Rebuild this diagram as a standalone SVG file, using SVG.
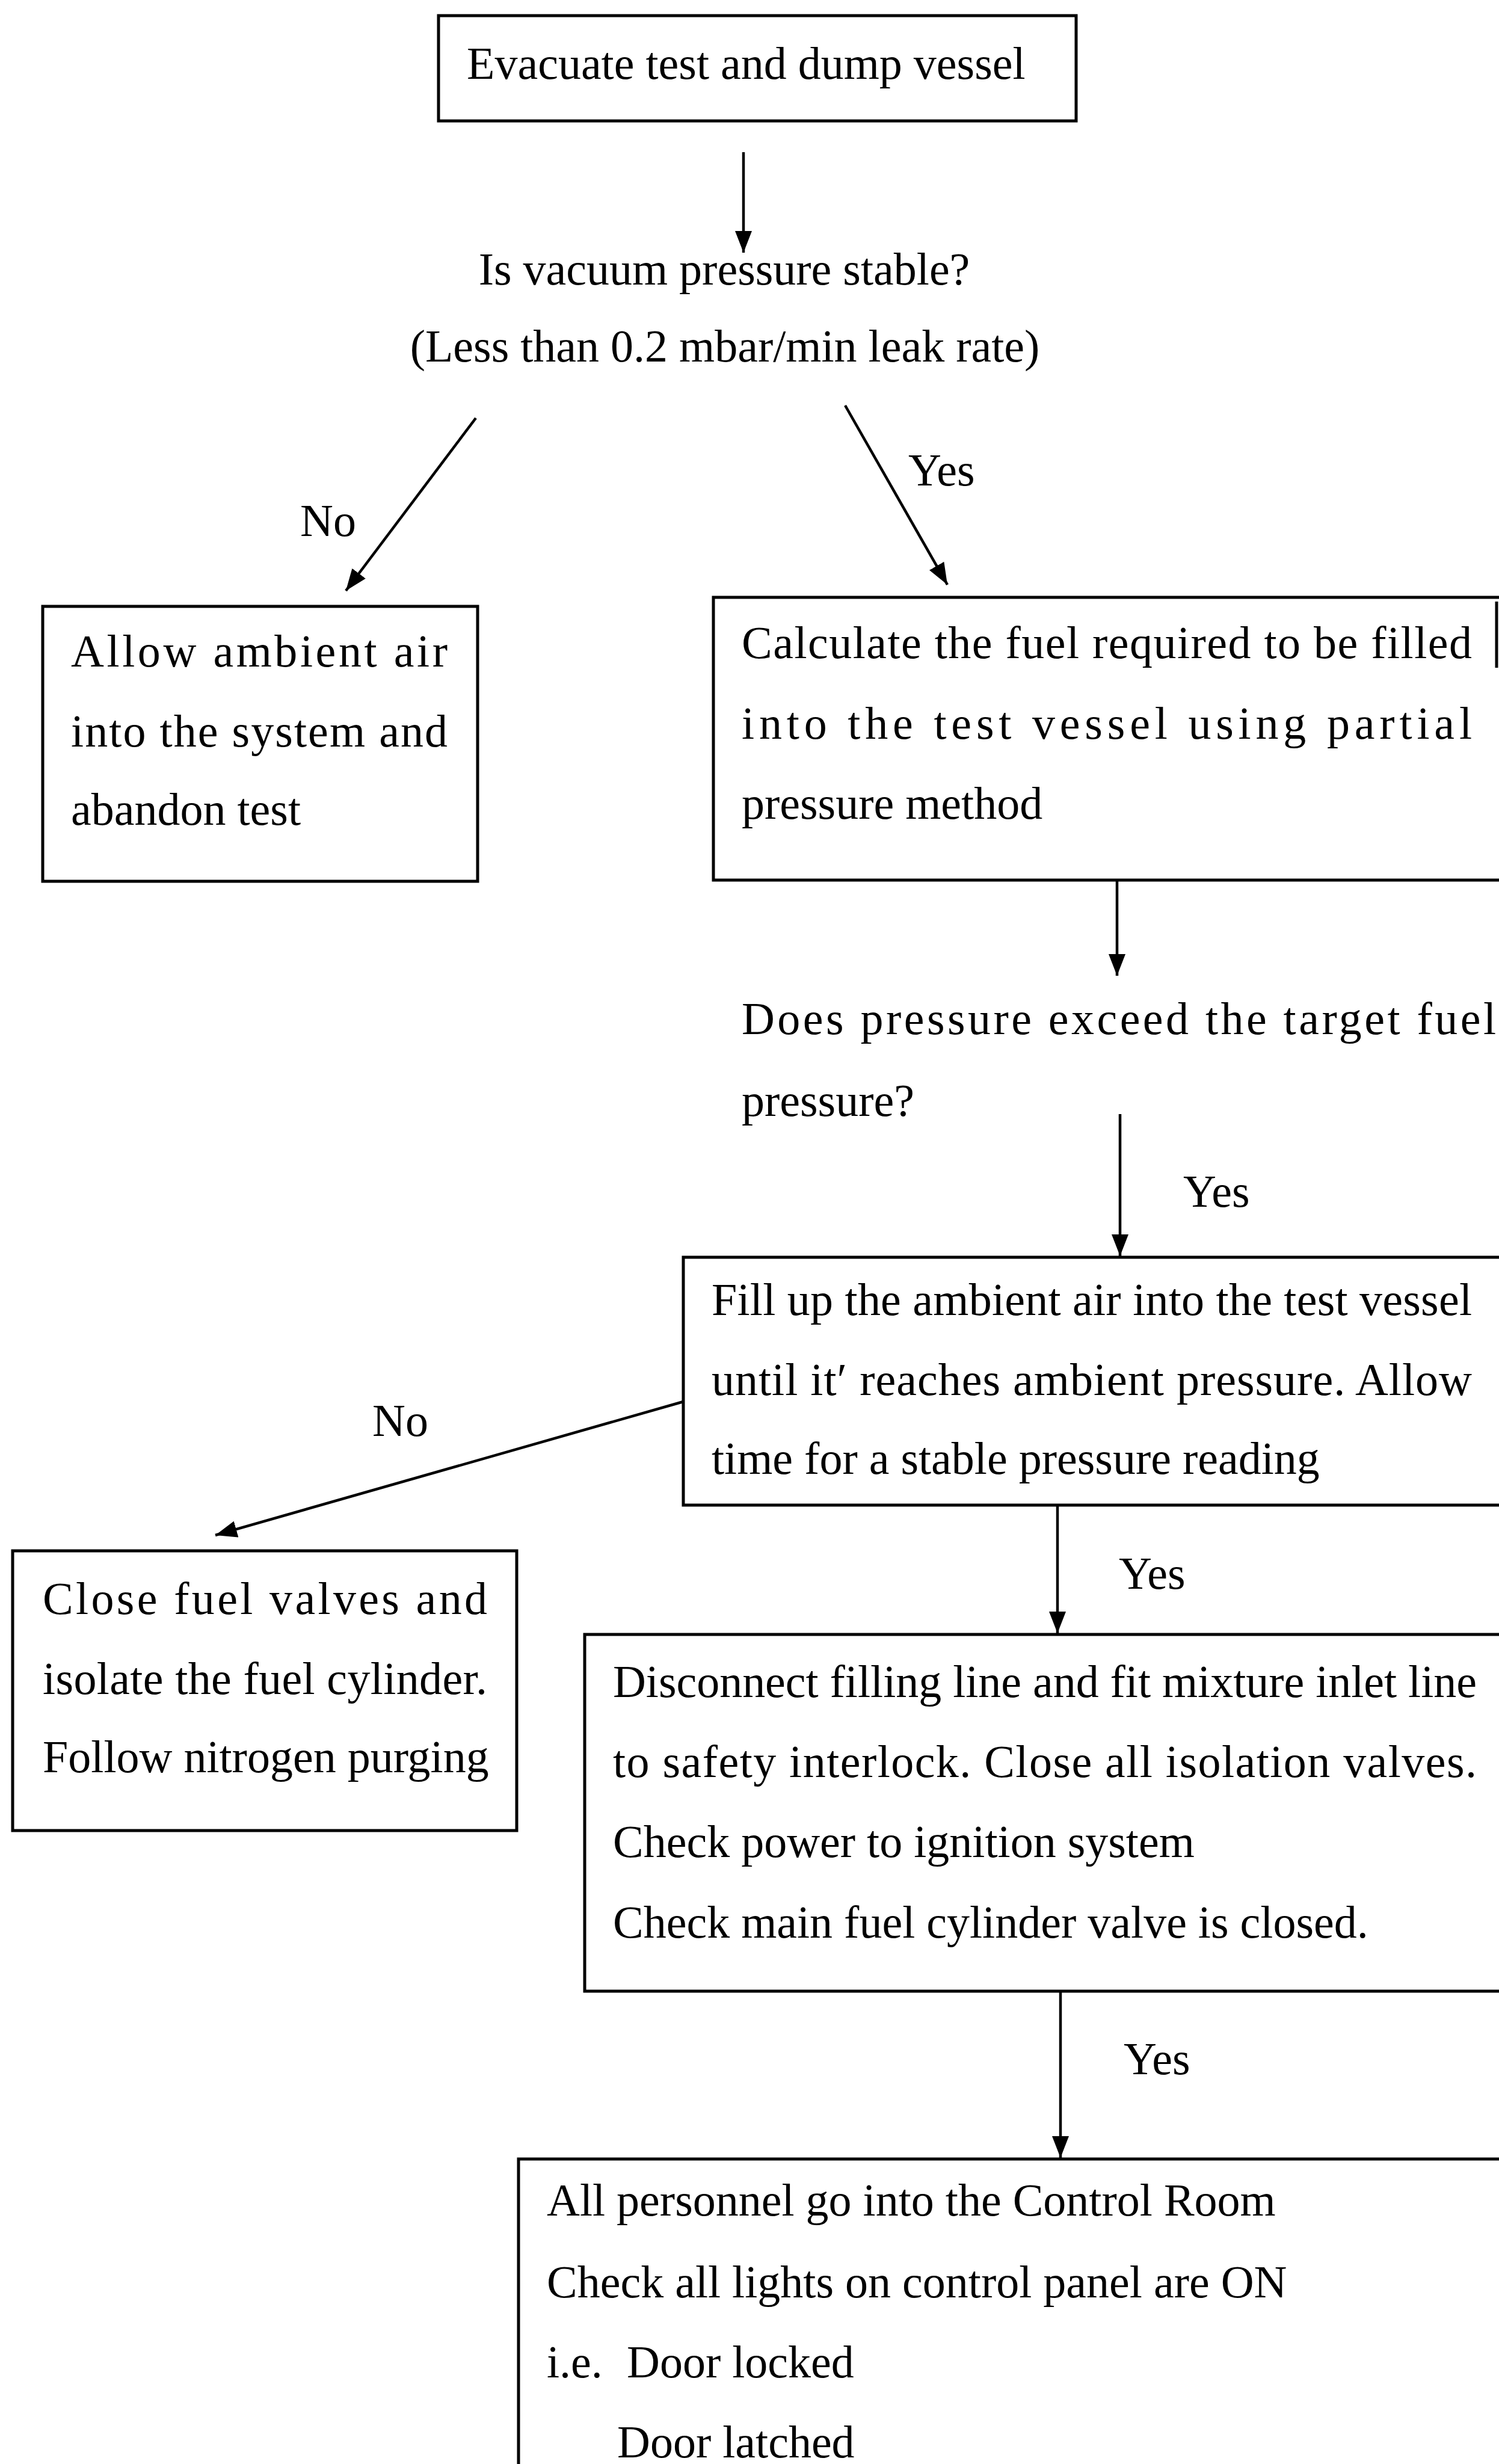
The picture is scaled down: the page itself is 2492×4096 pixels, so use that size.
<svg xmlns="http://www.w3.org/2000/svg" width="2492" height="4096" viewBox="0 0 2492 4096">
<style>
.box{fill:none;stroke:#000;stroke-width:5}
.t{font-family:"Liberation Serif","Times New Roman",serif;font-size:76px;fill:#000}
.c{stroke:#000;stroke-width:4.5;fill:none}
</style>
<defs>
<marker id="ah" viewBox="0 0 36 28" refX="36" refY="14" markerWidth="36" markerHeight="28" markerUnits="userSpaceOnUse" orient="auto">
<path d="M0,0 L36,14 L0,28 z" fill="#000"/>
</marker>
</defs>
<rect width="2492" height="4096" fill="#fff"/>

<g id="n1">
<rect class="box" x="729" y="26" width="1060" height="175"/>
<text class="t" x="776" y="131">Evacuate test and dump vessel</text>
</g>

<g id="q1">
<text class="t" x="1204" y="473" text-anchor="middle">Is vacuum pressure stable?</text>
<text class="t" x="1205" y="601" text-anchor="middle">(Less than 0.2 mbar/min leak rate)</text>
</g>

<g id="n2">
<rect class="box" x="71" y="1008" width="723" height="457"/>
<text class="t" x="118" y="1108" textLength="626">Allow ambient air</text>
<text class="t" x="118" y="1241" textLength="626">into the system and</text>
<text class="t" x="118" y="1371">abandon test</text>
</g>

<g id="n3">
<path class="box" d="M2500,993 H1186 V1463 H2500"/>
<line class="box" x1="2488" y1="1000" x2="2488" y2="1110"/>
<text class="t" x="1233" y="1094" textLength="1214">Calculate the fuel required to be filled</text>
<text class="t" x="1233" y="1228" textLength="1214">into the test vessel using partial</text>
<text class="t" x="1233" y="1361">pressure method</text>
</g>

<g id="q2">
<text class="t" x="1233" y="1719" textLength="1254">Does pressure exceed the target fuel</text>
<text class="t" x="1233" y="1855">pressure?</text>
</g>

<g id="n4">
<path class="box" d="M2500,2090 H1136 V2502 H2500"/>
<text class="t" x="1183" y="2186" textLength="1264">Fill up the ambient air into the test vessel</text>
<text class="t" x="1183" y="2319" textLength="1264">until it′ reaches ambient pressure. Allow</text>
<text class="t" x="1183" y="2450">time for a stable pressure reading</text>
</g>

<g id="n5">
<rect class="box" x="21" y="2578" width="838" height="465"/>
<text class="t" x="71" y="2683" textLength="739">Close fuel valves and</text>
<text class="t" x="71" y="2816" textLength="739">isolate the fuel cylinder.</text>
<text class="t" x="71" y="2946">Follow nitrogen purging</text>
</g>

<g id="n6">
<path class="box" d="M2500,2717 H972 V3310 H2500"/>
<text class="t" x="1019" y="2821" textLength="1436">Disconnect filling line and fit mixture inlet line</text>
<text class="t" x="1019" y="2954" textLength="1436">to safety interlock. Close all isolation valves.</text>
<text class="t" x="1019" y="3087">Check power to ignition system</text>
<text class="t" x="1019" y="3221">Check main fuel cylinder valve is closed.</text>
</g>

<g id="n7">
<path class="box" d="M2500,3589 H862 V4110"/>
<text class="t" x="909" y="3683">All personnel go into the Control Room</text>
<text class="t" x="909" y="3819">Check all lights on control panel are ON</text>
<text class="t" x="909" y="3952">i.e.<tspan x="1042">Door locked</tspan></text>
<text class="t" x="1026" y="4085">Door latched</text>
</g>

<g id="connectors">
<line class="c" x1="1236" y1="253" x2="1236" y2="420" marker-end="url(#ah)"/>
<line class="c" x1="791" y1="695" x2="575" y2="982" marker-end="url(#ah)"/>
<text class="t" x="499" y="891">No</text>
<line class="c" x1="1405" y1="674" x2="1575" y2="972" marker-end="url(#ah)"/>
<text class="t" x="1510" y="807">Yes</text>
<line class="c" x1="1857" y1="1463" x2="1857" y2="1622" marker-end="url(#ah)"/>
<line class="c" x1="1862" y1="1852" x2="1862" y2="2088" marker-end="url(#ah)"/>
<text class="t" x="1967" y="2006">Yes</text>
<line class="c" x1="1136" y1="2330" x2="358" y2="2552" marker-end="url(#ah)"/>
<text class="t" x="619" y="2387">No</text>
<line class="c" x1="1758" y1="2502" x2="1758" y2="2715" marker-end="url(#ah)"/>
<text class="t" x="1860" y="2641">Yes</text>
<line class="c" x1="1763" y1="3310" x2="1763" y2="3587" marker-end="url(#ah)"/>
<text class="t" x="1868" y="3448">Yes</text>
</g>
</svg>
